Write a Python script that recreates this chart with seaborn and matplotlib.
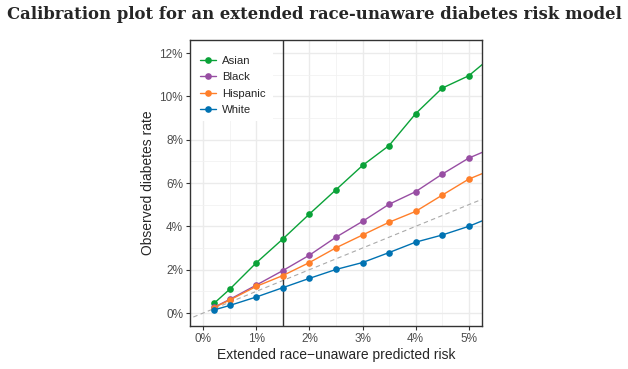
import numpy as np
import pandas as pd
import matplotlib
matplotlib.use("Agg")
import matplotlib.pyplot as plt
import seaborn as sns
from matplotlib.ticker import MultipleLocator, FuncFormatter
from matplotlib.patches import Rectangle

predicted = [0.2, 0.5, 1.0, 1.5, 2.0, 2.5, 3.0, 3.5, 4.0, 4.5, 5.0, 5.5]
asian = [0.44, 1.10, 2.32, 3.42, 4.57, 5.69, 6.81, 7.73, 9.20, 10.38, 10.95, 11.97]
black = [0.26, 0.63, 1.29, 1.96, 2.67, 3.50, 4.23, 5.02, 5.60, 6.41, 7.15, 7.67]
hispanic = [0.25, 0.60, 1.23, 1.73, 2.33, 3.01, 3.60, 4.19, 4.69, 5.44, 6.18, 6.68]
white = [0.14, 0.35, 0.74, 1.17, 1.60, 2.01, 2.33, 2.79, 3.27, 3.60, 4.00, 4.50]
groups = ["Asian", "Black", "Hispanic", "White"]
colors = ["#0AA238", "#984EA3", "#FF7F2A", "#0072B2"]
threshold = 1.5

df = pd.DataFrame({
    "pred": predicted * 4,
    "obs": asian + black + hispanic + white,
    "group": sum([[g] * len(predicted) for g in groups], []),
})

sns.set_style("white")
plt.rcParams["font.family"] = ["Liberation Sans", "DejaVu Sans"]

fig = plt.figure(figsize=(6.28, 3.69), dpi=100)
ax = fig.add_axes([0.3025, 0.1165, 0.465, 0.775])

ax.set_xlim(-0.25, 5.25)
ax.set_ylim(-0.6, 12.6)
ax.xaxis.set_major_locator(MultipleLocator(1))
ax.xaxis.set_minor_locator(MultipleLocator(0.5))
ax.yaxis.set_major_locator(MultipleLocator(2))
ax.yaxis.set_minor_locator(MultipleLocator(1))
ax.grid(True, which="major", color="#EBEBEB", linewidth=1.0)
ax.grid(True, which="minor", color="#F2F2F2", linewidth=0.6)
ax.set_axisbelow(True)

ax.plot([-1, 6], [-1, 6], linestyle=(0, (4, 3)), color="#AAAAAA", linewidth=0.8, zorder=1)
ax.axvline(threshold, color="#333333", linewidth=1.0, zorder=1.5)

sns.lineplot(data=df, x="pred", y="obs", hue="group", hue_order=groups,
             palette=colors, marker="o", markersize=4.8, markeredgewidth=0,
             linewidth=1.0, ax=ax, zorder=3)

ax.xaxis.set_major_formatter(FuncFormatter(lambda v, p: f"{v:.0f}%"))
ax.yaxis.set_major_formatter(FuncFormatter(lambda v, p: f"{v:.0f}%"))
ax.tick_params(axis="both", which="major", labelsize=8.5, labelcolor="#4D4D4D",
               length=3, width=0.8, color="#333333", pad=2, bottom=True, left=True)
ax.tick_params(axis="both", which="minor", length=0)
for s in ax.spines.values():
    s.set_color("#333333")
    s.set_linewidth(1.0)
    s.set_zorder(10)

ax.set_xlabel("Extended race\u2212unaware predicted risk", fontsize=10, labelpad=2)
ax.set_ylabel("Observed diabetes rate", fontsize=10, labelpad=3)

# legend background box (white, no border)
ax.add_patch(Rectangle((0.0, 0.717), 0.284, 0.283, transform=ax.transAxes,
                       facecolor="white", edgecolor="none", zorder=4))
leg = ax.legend(loc="upper left", bbox_to_anchor=(0.036, 0.945), frameon=False,
                fontsize=8.2, handlelength=1.4, handletextpad=0.5,
                borderaxespad=0, labelspacing=0.56, borderpad=0)
leg.set_zorder(5)

fig.text(0.5, 0.96, "Calibration plot for an extended race-unaware diabetes risk model",
         ha="center", va="center", fontsize=11.9, fontweight="bold",
         family=["DejaVu Serif"])

fig.savefig("out.png", dpi=100)
